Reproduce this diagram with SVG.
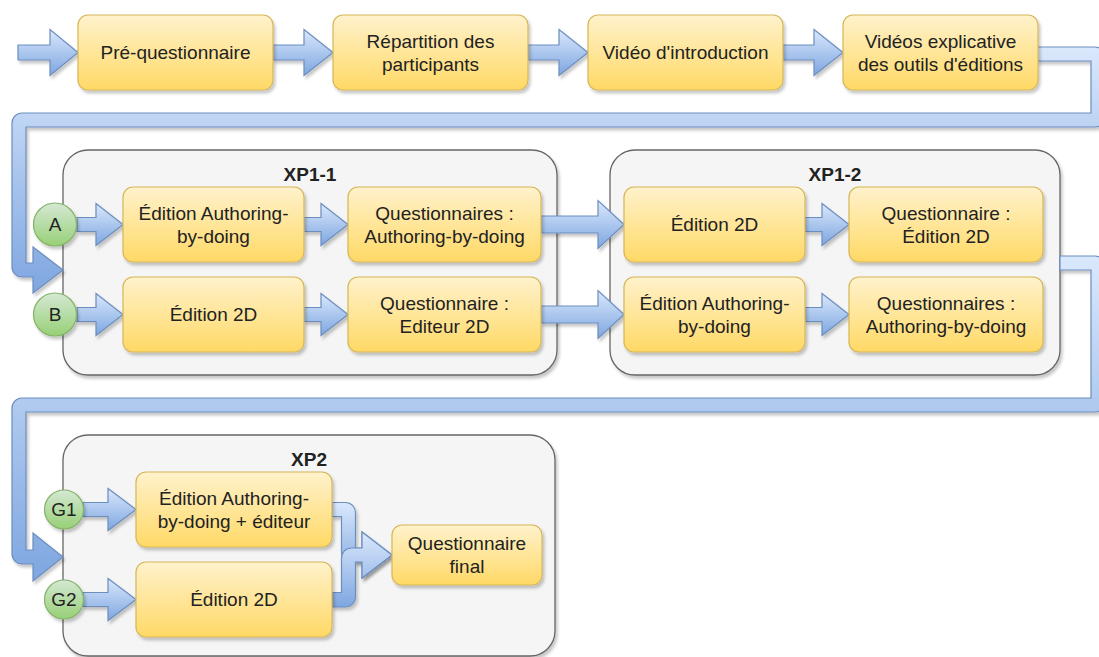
<svg xmlns="http://www.w3.org/2000/svg" width="1099" height="657" viewBox="0 0 1099 657">
<defs>
<linearGradient id="gBox" x1="0" y1="0" x2="0" y2="1"><stop offset="0" stop-color="#fff2cc"/><stop offset="1" stop-color="#ffd966"/></linearGradient>
<linearGradient id="gArr" x1="0" y1="0" x2="0" y2="1"><stop offset="0" stop-color="#dae8fc"/><stop offset="1" stop-color="#7ea6e0"/></linearGradient>
<linearGradient id="gCir" x1="0" y1="0" x2="0" y2="1"><stop offset="0" stop-color="#d5e8d4"/><stop offset="1" stop-color="#97d077"/></linearGradient>
<filter id="sh" x="-10%" y="-10%" width="130%" height="140%"><feDropShadow dx="2" dy="3" stdDeviation="1.8" flood-color="#000" flood-opacity="0.22"/></filter>
</defs>
<style>
.box{fill:url(#gBox);stroke:#d6b656;stroke-width:1.2;filter:url(#sh)}
.cont{fill:#f5f5f5;stroke:#666666;stroke-width:1.3;filter:url(#sh)}
.arr{fill:url(#gArr);stroke:#6c8ebf;stroke-width:1.2;stroke-linejoin:miter;filter:url(#sh)}
.cir{fill:url(#gCir);stroke:#82b366;stroke-width:1.2;filter:url(#sh)}
text{font-family:"Liberation Sans",Arial,sans-serif;font-size:19px;fill:#222;text-anchor:middle}
.t{font-weight:bold}
</style>

<g id="xp1-1"><rect class="cont" x="63" y="150" width="494" height="225" rx="25"/><text class="t" x="310" y="181">XP1-1</text></g>
<g id="xp1-2"><rect class="cont" x="610" y="150" width="450" height="225" rx="25"/><text class="t" x="835" y="181">XP1-2</text></g>
<g id="xp2"><rect class="cont" x="63" y="435" width="492" height="221" rx="25"/><text class="t" x="309" y="466">XP2</text></g>

<g id="connectors">
<!-- top row -->
<path class="arr" d="M18,45 L50,45 L50,29.5 L78,52.5 L50,75.5 L50,60 L18,60 Z"/>
<path class="arr" d="M273,45 L304,45 L304,29.5 L333,52.5 L304,75.5 L304,60 L273,60 Z"/>
<path class="arr" d="M528,45 L559,45 L559,29.5 L588,52.5 L559,75.5 L559,60 L528,60 Z"/>
<path class="arr" d="M783,45 L814,45 L814,29.5 L843,52.5 L814,75.5 L814,60 L783,60 Z"/>
<!-- loop 1 -->
<path class="arr" d="M1037,47 L1095,47 A10,10 0 0 1 1105,57 L1105,117 A10,10 0 0 1 1095,127 L26,127 L26,263 L33,263 L33,247 L63,270 L33,293 L33,277 L22,277 A10,10 0 0 1 12,267 L12,123 A10,10 0 0 1 22,113 L1091,113 L1091,61 L1037,61 Z"/>
<!-- XP1-1 row 1 -->
<path class="arr" d="M77,217.5 L96,217.5 L96,203.5 L123,224.5 L96,245.5 L96,231.5 L77,231.5 Z"/>
<path class="arr" d="M304,217.5 L321,217.5 L321,203.5 L348,224.5 L321,245.5 L321,231.5 L304,231.5 Z"/>
<path class="arr" d="M541,216 L598,216 L598,200.5 L624,224.5 L598,248.5 L598,233 L541,233 Z"/>
<path class="arr" d="M805,217.5 L822,217.5 L822,203.5 L849,224.5 L822,245.5 L822,231.5 L805,231.5 Z"/>
<!-- XP1-1 row 2 -->
<path class="arr" d="M77,307.5 L96,307.5 L96,293.5 L123,314.5 L96,335.5 L96,321.5 L77,321.5 Z"/>
<path class="arr" d="M304,307.5 L321,307.5 L321,293.5 L348,314.5 L321,335.5 L321,321.5 L304,321.5 Z"/>
<path class="arr" d="M541,306 L598,306 L598,290.5 L624,314.5 L598,338.5 L598,323 L541,323 Z"/>
<path class="arr" d="M805,307.5 L822,307.5 L822,293.5 L849,314.5 L822,335.5 L822,321.5 L805,321.5 Z"/>
<!-- loop 2 -->
<path class="arr" d="M1060,256 L1095,256 A10,10 0 0 1 1105,266 L1105,402 A10,10 0 0 1 1095,412 L26,412 L26,550 L33,550 L33,533 L63,557 L33,581 L33,564 L22,564 A10,10 0 0 1 12,554 L12,408 A10,10 0 0 1 22,398 L1091,398 L1091,270 L1060,270 Z"/>
<!-- XP2 -->
<path class="arr" d="M83,502.5 L108,502.5 L108,488.5 L136,509.5 L108,530.5 L108,516.5 L83,516.5 Z"/>
<path class="arr" d="M83,592.5 L108,592.5 L108,578.5 L136,599.5 L108,620.5 L108,606.5 L83,606.5 Z"/>
<path class="arr" d="M332,502.5 L345.5,502.5 A10,10 0 0 1 355.5,512.5 L355.5,548 L362,548 L362,532 L392,555 L362,578 L362,562 L351.5,562 A10,10 0 0 1 341.5,552 L341.5,516.5 L332,516.5 Z"/>
<path class="arr" d="M332,592.5 L341.5,592.5 L341.5,558 A10,10 0 0 1 351.5,548 L362,548 L362,532 L392,555 L362,578 L362,562 L355.5,562 L355.5,597 A10,10 0 0 1 345.5,607 L332,607 Z"/>
</g>

<g id="n-pre"><rect class="box" x="78" y="15" width="195" height="75" rx="10"/><text x="175.5" y="59">Pré-questionnaire</text></g>
<g id="n-rep"><rect class="box" x="333" y="15" width="195" height="75" rx="10"/><text x="430.5" y="47.5">Répartition des</text><text x="430.5" y="70.5">participants</text></g>
<g id="n-vid"><rect class="box" x="588" y="15" width="195" height="75" rx="10"/><text x="685.5" y="59">Vidéo d'introduction</text></g>
<g id="n-vids"><rect class="box" x="843" y="15" width="195" height="75" rx="10"/><text x="940.5" y="47.5">Vidéos explicative</text><text x="940.5" y="70.5">des outils d'éditions</text></g>

<g id="c-a"><circle class="cir" cx="55" cy="224.5" r="21.5"/><text x="55" y="231">A</text></g>
<g id="c-b"><circle class="cir" cx="55" cy="314.5" r="21.5"/><text x="55" y="321">B</text></g>

<g id="n-11a"><rect class="box" x="123" y="187" width="181" height="75" rx="10"/><text x="213.5" y="219.5">Édition Authoring-</text><text x="213.5" y="242.5">by-doing</text></g>
<g id="n-11b"><rect class="box" x="348" y="187" width="193" height="75" rx="10"/><text x="444.5" y="219.5">Questionnaires :</text><text x="444.5" y="242.5">Authoring-by-doing</text></g>
<g id="n-11c"><rect class="box" x="123" y="277" width="181" height="75" rx="10"/><text x="213.5" y="321">Édition 2D</text></g>
<g id="n-11d"><rect class="box" x="348" y="277" width="193" height="75" rx="10"/><text x="444.5" y="309.5">Questionnaire :</text><text x="444.5" y="332.5">Editeur 2D</text></g>

<g id="n-12a"><rect class="box" x="624" y="187" width="181" height="75" rx="10"/><text x="714.5" y="231">Édition 2D</text></g>
<g id="n-12b"><rect class="box" x="849" y="187" width="194" height="75" rx="10"/><text x="946" y="219.5">Questionnaire :</text><text x="946" y="242.5">Édition 2D</text></g>
<g id="n-12c"><rect class="box" x="624" y="277" width="181" height="75" rx="10"/><text x="714.5" y="309.5">Édition Authoring-</text><text x="714.5" y="332.5">by-doing</text></g>
<g id="n-12d"><rect class="box" x="849" y="277" width="194" height="75" rx="10"/><text x="946" y="309.5">Questionnaires :</text><text x="946" y="332.5">Authoring-by-doing</text></g>

<g id="c-g1"><circle class="cir" cx="64" cy="509.5" r="19.5"/><text x="64" y="516">G1</text></g>
<g id="c-g2"><circle class="cir" cx="64" cy="599.5" r="19.5"/><text x="64" y="606">G2</text></g>

<g id="n-2a"><rect class="box" x="136" y="472" width="196" height="75" rx="10"/><text x="234" y="504.5">Édition Authoring-</text><text x="234" y="527.5">by-doing + éditeur</text></g>
<g id="n-2b"><rect class="box" x="136" y="562" width="196" height="75" rx="10"/><text x="234" y="606">Édition 2D</text></g>
<g id="n-2c"><rect class="box" x="392" y="525" width="150" height="60" rx="10"/><text x="467" y="549.5">Questionnaire</text><text x="467" y="572.5">final</text></g>
</svg>
